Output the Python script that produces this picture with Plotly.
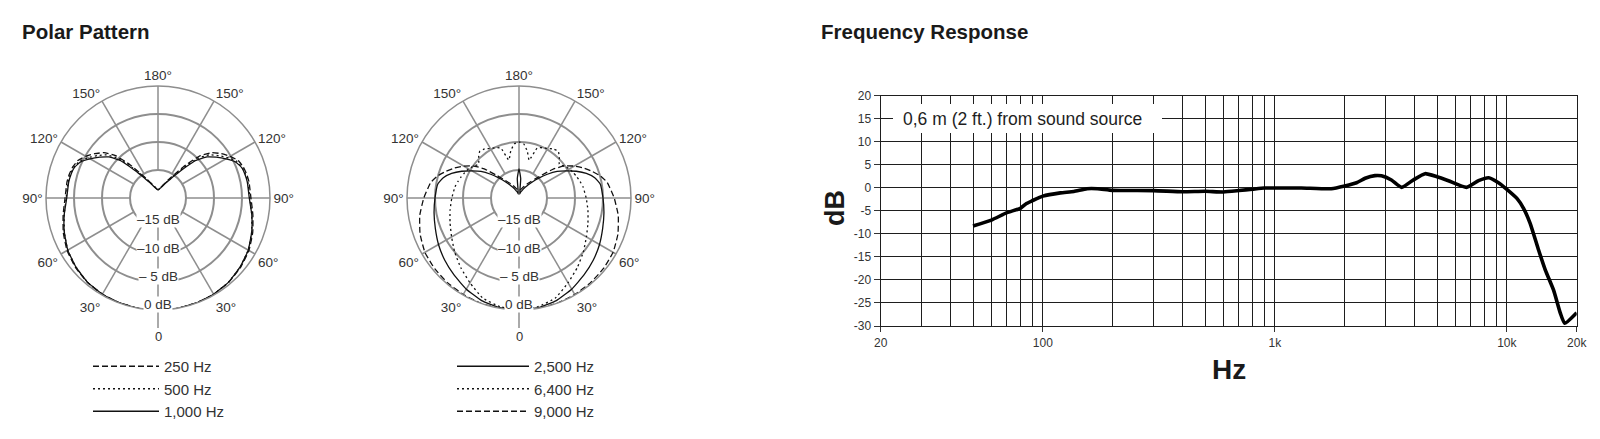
import math
import plotly.graph_objects as go

# ---------------- data ----------------
# polar angles (deg, 0 = on-axis); patterns are symmetric, mirrored in code
ANGLES = [0, 10, 20, 30, 40, 50, 60, 70, 80, 90, 100, 105, 110, 115, 120, 125, 130,
          135, 140, 145, 150, 155, 160, 165, 170, 175, 180]

# left polar (dB)
P_250 = [0, 0, -0.05, -0.15, -0.35, -0.75, -1.25, -2.0, -2.8, -3.4, -3.5, -3.6, -3.8,
         -4.2, -5.1, -6.2, -7.4, -9.3, -12.3, -14.8, -16.2, -17.1, -17.7, -18.0, -18.3,
         -18.45, -18.5]
P_500 = [0, 0, -0.05, -0.15, -0.4, -0.85, -1.4, -2.2, -3.0, -3.6, -3.7, -3.8, -4.0,
         -4.5, -5.6, -6.8, -8.0, -10.0, -13.0, -15.2, -16.4, -17.2, -17.7, -18.0, -18.3,
         -18.45, -18.5]
P_1000 = [0, 0, -0.05, -0.15, -0.4, -0.85, -1.4, -2.2, -3.0, -3.7, -3.8, -3.9, -4.1,
          -4.75, -6.0, -7.3, -8.6, -10.6, -13.6, -15.5, -16.6, -17.3, -17.8, -18.1, -18.3,
          -18.45, -18.5]

# right polar (dB)
P_2500 = [0, -0.1, -0.5, -1.2, -2.0, -2.7, -3.4, -4.1, -4.6, -5.0, -5.3, -6.0, -7.2,
          -8.7, -10.3, -11.7, -13.4, -15.0, -16.2, -17.1, -17.8, -18.3, -18.7, -18.95,
          -19.3, -16.5, -14.8]
P_6400 = [0, -0.3, -1.0, -2.5, -3.8, -5.0, -6.1, -6.9, -7.5, -8.0, -8.4, -8.7, -9.0,
          -9.3, -9.6, -10.1, -10.6, -9.8, -9.1, -9.3, -9.8, -10.1, -10.5, -13.0, -11.5,
          -10.3, -10.0]
P_9000 = [0, 0, 0, -0.1, -0.2, -0.35, -0.6, -1.2, -2.0, -3.0, -4.0, -4.9, -6.1, -7.3,
          -8.6, -10.0, -11.9, -14.2, -15.6, -16.5, -17.1, -17.6, -18.0, -18.3, -18.5,
          -18.6, -18.7]

SPOKE_ANGLES = [0, 30, 60, 90, 120, 150, 180, 210, 240, 270, 300, 330]
ANGLE_LABELS = ["", "30°", "60°", "90°", "120°", "150°", "180°", "150°", "120°", "90°",
                "60°", "30°"]
RING_LABELS = ["–15 dB", "–10 dB", "– 5 dB", "0 dB"]

# frequency response
FREQ = [50, 60, 70, 80, 85, 90, 100, 119, 136, 155, 172, 200, 300, 400, 500, 600, 700,
        800, 900, 1000, 1300, 1750, 2000, 2250, 2450, 2700, 2880, 3180, 3520, 3950,
        4440, 5000, 5600, 6700, 7550, 8350, 9200, 10000, 11050, 11800, 12600, 13700,
        14650, 15900, 17000, 17750, 20000]
RESP = [-8.3, -7.0, -5.4, -4.45, -3.4, -2.8, -1.8, -1.1, -0.8, -0.2, -0.2, -0.55, -0.6,
        -0.85, -0.75, -0.9, -0.6, -0.3, -0.05, -0.05, -0.04, -0.2, 0.4, 1.1, 2.07, 2.65,
        2.6, 1.7, 0.1, 1.7, 3.07, 2.4, 1.55, 0.1, 1.55, 2.2, 1.1, -0.33, -2.3, -4.45,
        -7.7, -13.5, -17.85, -22.2, -27.2, -29.4, -27.1]

X_TICKS = [20, 100, 1000, 10000, 20000]
X_TICK_TEXT = ["20", "100", "1k", "10k", "20k"]
X_MINOR = [30, 40, 50, 60, 70, 80, 90, 200, 300, 400, 500, 600, 700, 800, 900,
           2000, 3000, 4000, 5000, 6000, 7000, 8000, 9000]
Y_TICKS = [-30, -25, -20, -15, -10, -5, 0, 5, 10, 15, 20]
Y_TICK_TEXT = ["-30", "-25", "-20", "-15", "-10", "-5", "0", "5", "10", "15", "20"]

# ---------------- style ----------------
W, H = 1600, 439
FONT = "Liberation Sans, Arial, sans-serif"
GRID = "#8e8e8e"
TXT = "#333333"
DARK = "#1e1e1e"
R_PX = 112
CY = 198
CX1, CX2 = 158, 519
DASH = "6px,3px"
DOT = "2px,3px"


def px(x):
    return x / W


def py(y):
    return (H - y) / H


def mirror(angles, vals):
    th = list(angles) + [360 - a for a in reversed(angles[:-1])]
    r = list(vals) + list(reversed(vals[:-1]))
    return th, r


fig = go.Figure()

# spokes (angular grid from the -15 dB ring to the outer ring)
for sub in ["polar", "polar2"]:
    sr, st = [], []
    for a in SPOKE_ANGLES:
        sr += [-15, 0, None]
        st += [a, a, None]
    fig.add_trace(go.Scatterpolar(r=sr, theta=st, mode="lines", subplot=sub,
                                  line=dict(color=GRID, width=1.5), showlegend=False,
                                  hoverinfo="skip", connectgaps=False))

curves = [
    ("250 Hz", P_250, DASH, "polar", "legend"),
    ("500 Hz", P_500, DOT, "polar", "legend"),
    ("1,000 Hz", P_1000, "solid", "polar", "legend"),
    ("2,500 Hz", P_2500, "solid", "polar2", "legend2"),
    ("6,400 Hz", P_6400, DOT, "polar2", "legend2"),
    ("9,000 Hz", P_9000, DASH, "polar2", "legend2"),
]
for i, (name, vals, dash, sub, leg) in enumerate(curves):
    th, r = mirror(ANGLES, vals)
    fig.add_trace(go.Scatterpolar(r=r, theta=th, mode="lines", name=name, subplot=sub,
                                  legend=leg, legendgroup="g%d" % i,
                                  line=dict(color="#111111", width=1.3, dash=dash,
                                            shape="spline", smoothing=0.4)))

fig.add_trace(go.Scatter(x=FREQ, y=RESP, mode="lines", showlegend=False,
                         line=dict(color="#000000", width=3.6, shape="spline",
                                   smoothing=0.5),
                         xaxis="x", yaxis="y"))


def polar_layout(cx):
    return dict(
        domain=dict(x=[px(cx - R_PX), px(cx + R_PX)], y=[py(CY + R_PX), py(CY - R_PX)]),
        bgcolor="white",
        radialaxis=dict(range=[-20, 0], tickmode="array", tickvals=[-15, -10, -5],
                        showticklabels=False, ticks="", showline=False,
                        gridcolor=GRID, gridwidth=1.5),
        angularaxis=dict(rotation=270, direction="clockwise", tickmode="array",
                         tickvals=SPOKE_ANGLES, ticktext=ANGLE_LABELS, showgrid=False,
                         showline=True, linecolor=GRID, linewidth=1.5, ticks="",
                         tickfont=dict(size=13.5, color=TXT, family=FONT)),
    )


def note(text, x, y, size, color=TXT, **kw):
    d = dict(text=text, x=px(x), y=py(y), xref="paper", yref="paper",
             xanchor="center", yanchor="middle", showarrow=False,
             font=dict(size=size, color=color, family=FONT))
    d.update(kw)
    return d


annotations = [
    note("<b>Polar Pattern</b>", 20, 31, 20.5, "#1a1a1a", xanchor="left"),
    note("<b>Frequency Response</b>", 819, 31, 20.5, "#1a1a1a", xanchor="left"),
    note("<b>dB</b>", 835, 208, 27, "#1a1a1a", textangle=-90),
    note("<b>Hz</b>", 1229, 369, 28, "#1a1a1a"),
    dict(text="0,6 m (2 ft.) from sound source", x=px(1022), y=15, xref="paper",
         yref="y", xanchor="center", yanchor="middle", showarrow=False,
         font=dict(size=17.5, color=DARK, family=FONT)),
]
ring_y = [220, 248.5, 276.5, 304]
for cx in (CX1, CX2):
    for lab, yy in zip(RING_LABELS, ring_y):
        annotations.append(note(lab, cx, yy, 13.5, bgcolor="white", borderpad=0))
    annotations.append(note("0", cx, 336, 13))

shapes = [
    dict(type="rect", xref="paper", yref="paper", x0=px(893), x1=px(1162),
         y0=py(133), y1=py(104), fillcolor="white", line=dict(width=0), layer="above"),
]
for cx in (CX1, CX2):
    shapes.append(dict(type="line", xref="paper", yref="paper", x0=px(cx), x1=px(cx),
                       y0=py(CY + R_PX), y1=py(328), line=dict(color=GRID, width=1.5)))

legend_common = dict(xanchor="left", yanchor="top", bgcolor="rgba(0,0,0,0)",
                     font=dict(size=15, color=TXT, family=FONT),
                     tracegroupgap=0, traceorder="grouped")

fig.update_layout(
    width=W, height=H, autosize=False,
    margin=dict(l=0, r=0, t=0, b=0, pad=0, autoexpand=False),
    paper_bgcolor="white", plot_bgcolor="white",
    font=dict(family=FONT, color=TXT),
    polar=polar_layout(CX1),
    polar2=polar_layout(CX2),
    xaxis=dict(domain=[px(880.7), px(1576.7)], type="log",
               range=[math.log10(20), math.log10(20000)], tickmode="array",
               tickvals=X_TICKS, ticktext=X_TICK_TEXT, ticks="outside", ticklen=5,
               tickcolor=TXT, tickfont=dict(size=12, color=TXT, family=FONT),
               showgrid=True, gridcolor=DARK, gridwidth=1.3,
               minor=dict(tickmode="array", tickvals=X_MINOR, showgrid=True,
                          gridcolor=DARK, gridwidth=1.3, ticks=""),
               showline=True, mirror=True, linecolor=DARK, linewidth=1.3,
               zeroline=False, anchor="y"),
    yaxis=dict(domain=[py(326), py(95.7)], range=[-30, 20], tickmode="array",
               tickvals=Y_TICKS, ticktext=Y_TICK_TEXT, ticks="outside", ticklen=6,
               tickcolor=TXT, tickfont=dict(size=12, color=TXT, family=FONT),
               showgrid=True, gridcolor=DARK, gridwidth=1.3,
               showline=True, mirror=True, linecolor=DARK, linewidth=1.3,
               zeroline=False, anchor="x"),
    legend=dict(x=px(88), y=py(350), itemwidth=66, **legend_common),
    legend2=dict(x=px(452), y=py(350), itemwidth=72, **legend_common),
    annotations=annotations,
    shapes=shapes,
)

fig.write_html("out.html")
